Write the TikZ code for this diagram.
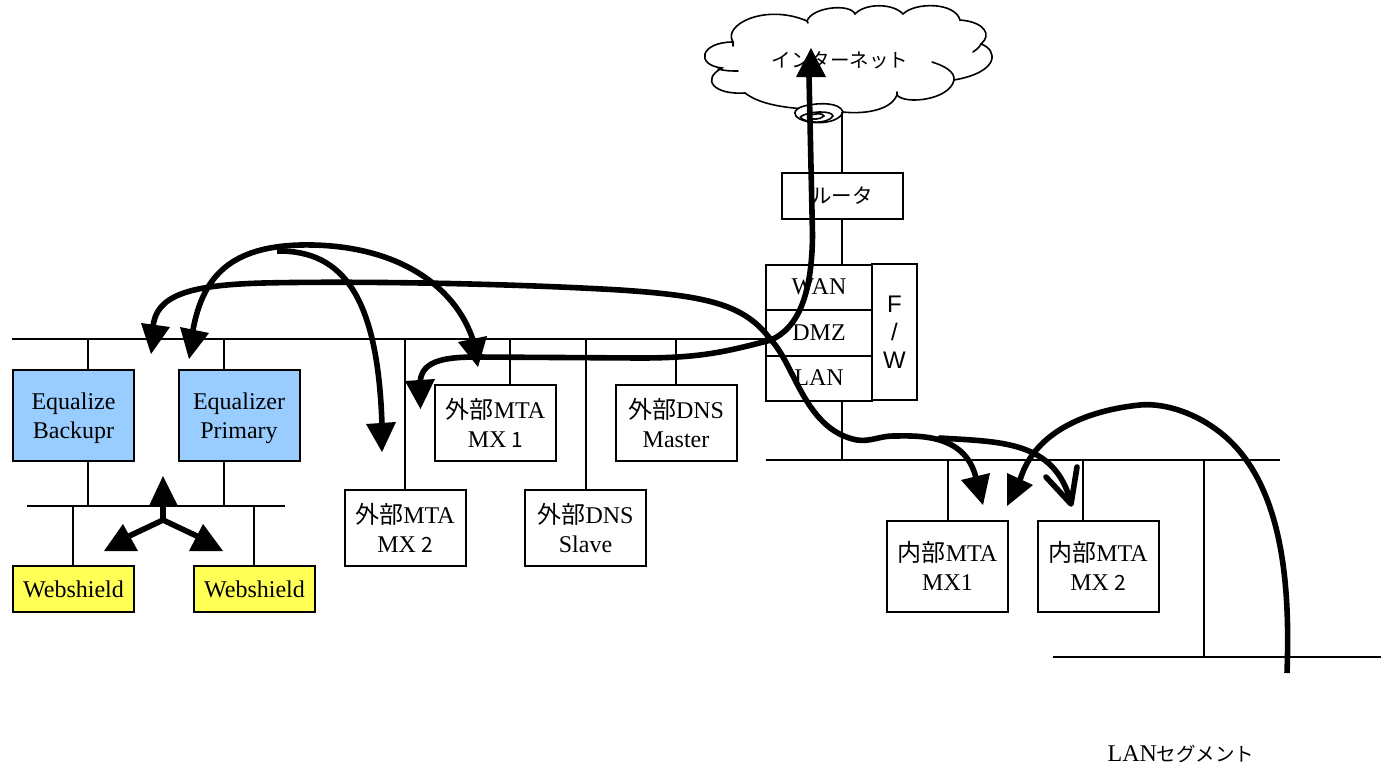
\documentclass[tikz,border=0pt]{standalone}
\usepackage{fontspec}
\setmainfont{Liberation Serif}
\newfontfamily\cjk{Noto Sans CJK JP}
\newfontfamily\helv{Liberation Sans}
\newcommand{\thinone}{\hspace{5pt}{\cjk\fontsize{21}{24}\selectfont 1}}
\newcommand{\thintwo}{\hspace{5pt}{\cjk\fontsize{21}{24}\selectfont 2}}
\newcommand{\lowerline}{\rule{0pt}{24pt}}
\definecolor{eqblue}{RGB}{153,204,255}
\definecolor{webyellow}{RGB}{255,255,85}
\tikzset{
 x=1pt,y=-1pt,
 wire/.style={draw=black,line width=1.6pt},
 flow/.style={draw=black,line width=5.6pt,line cap=butt},
 head/.style={fill=black,draw=none},
 box/.style={draw=black,line width=2pt,fill=white,minimum width=121pt,minimum height=76pt,align=center,inner sep=0pt,font=\fontsize{24}{29}\selectfont},
 eq/.style={box,minimum height=91pt,fill=eqblue},
 web/.style={box,minimum height=46pt,fill=webyellow},
 fw/.style={draw=black,line width=2pt,fill=white,inner sep=0pt,font=\fontsize{24}{27}\selectfont},
 cloudline/.style={draw=black,line width=1.6pt,line cap=round},
}
\begin{document}
\begin{tikzpicture}
\useasboundingbox[fill=white] (0,0) rectangle (1381,764);
% buses
\coordinate (b1a) at (12,339); \coordinate (b1b) at (766,339);
\coordinate (b2a) at (27,506); \coordinate (b2b) at (285,506);
\coordinate (b3a) at (766,460); \coordinate (b3b) at (1280,460);
\coordinate (b4a) at (1053,657); \coordinate (b4b) at (1381,657);
\draw[wire] (b1a)--(b1b); \draw[wire] (b2a)--(b2b); \draw[wire] (b3a)--(b3b); \draw[wire] (b4a)--(b4b);
% boxes
\node[eq] (eb) at (73.5,415) {\lowerline Equalize\\Backupr};
\node[eq] (ep) at (239,415) {\lowerline Equalizer\\Primary};
\node[web] (w1) at (73.5,589) {Webshield};
\node[web] (w2) at (254.5,589) {Webshield};
\node[box] (mx2) at (405,528) {{\cjk 外部}MTA\\MX\thintwo};
\node[box] (mx1) at (495.5,423) {{\cjk 外部}MTA\\MX\thinone};
\node[box] (dnss) at (585.5,528) {{\cjk 外部}DNS\\Slave};
\node[box] (dnsm) at (676,423) {{\cjk 外部}DNS\\Master};
\node[box,minimum height=91pt] (imx1) at (947.5,566) {{\cjk 内部}MTA\\MX1};
\node[box,minimum height=91pt] (imx2) at (1098,566) {{\cjk 内部}MTA\\MX\thintwo};
\node[box,minimum height=46pt,font=\cjk\fontsize{20.5}{24}\selectfont] (rt) at (842,196) {ルータ};
\node[fw,minimum width=106pt,minimum height=45pt] (wan) at (819,287) {WAN};
\node[fw,minimum width=106pt,minimum height=46pt] (dmz) at (819,332.5) {DMZ};
\node[fw,minimum width=106pt,minimum height=45pt] (lan) at (819,378) {LAN};
\node[fw,minimum width=45pt,minimum height=136pt,align=center,font=\helv\fontsize{24}{28}\selectfont] (fwl) at (894.5,332) {F\\/\\W};
% cloud
\filldraw[cloudline,fill=white]
 (733,42) .. controls (722,25) and (765,3) .. (807,21)
 .. controls (812,7) and (850,3) .. (855,14)
 .. controls (865,3) and (893,3) .. (903,14)
 .. controls (915,2) and (955,2) .. (960,20)
 .. controls (985,22) and (992,35) .. (981,44)
 .. controls (998,50) and (1000,72) .. (954,80)
 .. controls (950,100) and (905,105) .. (897,95)
 .. controls (890,112) and (860,114) .. (843,112)
 .. controls (820,108) and (770,112) .. (745,93)
 .. controls (715,95) and (700,80) .. (722,68)
 .. controls (695,65) and (700,42) .. (733,42) -- cycle;
\draw[cloudline] (733,42) -- (733,46)
 (807,21) -- (808,23)
 (718,69) .. controls (725,71) and (732,71) .. (738,71)
 (981,44) .. controls (979,48) and (976,50) .. (973,52)
 (954,80) .. controls (955,72) and (945,66) .. (932,62)
 (897,95) -- (897,92);
\node[inner sep=0pt,font=\cjk\fontsize{19.5}{24}\selectfont] (inet) at (840,60) {インターネット};
% cloud tail
\draw[wire,fill=white] (843,112) .. controls (840,102) and (818,103) .. (810,105) .. controls (798,106) and (792,112) .. (796,116) .. controls (803,125) and (838,126) .. (843,112) -- cycle;
\draw[wire] (800,117) .. controls (808,111) and (832,110) .. (833,116) .. controls (828,124) and (806,124) .. (800,117);
\draw[wire] (807,117) .. controls (812,113) and (824,113) .. (824,116) .. controls (820,120) and (811,120) .. (807,117);
% stubs
\coordinate (tail) at (842,112);
\draw[wire] (tail) -- (tail |- rt.north);
\draw[wire] (rt.south) -- (rt.south |- wan.north);
\coordinate (fwb) at (842,460);
\draw[wire] (fwb |- lan.south) -- (fwb);
\foreach \j/\x/\ya/\n in {a/88/339/eb,b/224/339/ep}{\coordinate (\j) at (\x,\ya); \draw[wire] (\j) -- (\j |- \n.north);}
\foreach \j/\x/\n in {c/88/eb,d/224/ep}{\coordinate (\j) at (\x,506); \draw[wire] (\j) -- (\j |- \n.south);}
\foreach \j/\x/\n in {e/73/w1,f/254/w2}{\coordinate (\j) at (\x,506); \draw[wire] (\j) -- (\j |- \n.north);}
\foreach \j/\x/\n in {g/405/mx2,h/510/mx1,i/586/dnss,k/676/dnsm}{\coordinate (\j) at (\x,339); \draw[wire] (\j) -- (\j |- \n.north);}
\foreach \j/\x/\n in {l/948/imx1,m/1083/imx2}{\coordinate (\j) at (\x,460); \draw[wire] (\j) -- (\j |- \n.north);}
\coordinate (n1) at (1204,460); \coordinate (n2) at (1204,657); \draw[wire] (n1) -- (n2);
\node[inner sep=0pt,anchor=base,font=\fontsize{24}{27}\selectfont] (seg) at (1181,761) {LAN{\cjk\fontsize{19.5}{24}\selectfont セグメント}};
% flows
\coordinate (hub) at (771,340);
\draw[flow] (hub) .. controls (798,328) and (812,295) .. (812.5,235) -- (809,76);
\fill[head] (811,48) -- (796,77) -- (826,77) -- cycle;
\draw[flow] (hub) .. controls (725,352) and (700,358) .. (640,358) -- (477,357) .. controls (440,357) and (420,362) .. (420,385);
\fill[head] (420.5,409) -- (405,381) -- (435,379) -- cycle;
\draw[flow] (hub) .. controls (745,305) and (710,296) .. (620,290) .. controls (500,283) and (350,281) .. (263,283) .. controls (190,285) and (155,295) .. (153,328);
\fill[head] (151,354) -- (141,323) -- (170,327) -- cycle;
\draw[flow] (193,330) .. controls (203,275) and (232,247) .. (300,245) .. controls (395,243) and (455,285) .. (473,340);
\fill[head] (189,359) -- (180,327) -- (209,333) -- cycle;
\fill[head] (478,367) -- (458,342) -- (487,336) -- cycle;
\draw[flow] (277,251) .. controls (345,250) and (378,300) .. (382,425);
\fill[head] (382,452) -- (366,424) -- (396,422) -- cycle;
\draw[flow] (hub) .. controls (795,365) and (805,430) .. (857,440) .. controls (870,442) and (880,436) .. (893,436) .. controls (915,436) and (965,432) .. (976,478);
\fill[head] (983,505) -- (961,480) -- (990,473) -- cycle;
\draw[flow,line cap=round] (940,438) .. controls (1000,442) and (1055,440) .. (1071,503);
\draw[flow,line cap=round,line join=round] (1046,477) -- (1071,504) -- (1077,467);
\draw[flow] (1287,673) .. controls (1290,590) and (1285,480) .. (1217,430) .. controls (1190,410) and (1160,403) .. (1140,405) .. controls (1090,410) and (1035,430) .. (1020,480);
\fill[head] (1007,506) -- (1007,473) -- (1033,485) -- cycle;
\coordinate (tri) at (163,520);
\draw[line width=5.6pt] (163,500) -- (tri) -- (125,538);
\draw[line width=5.6pt] (tri) -- (201,538);
\fill[head] (163,476) -- (149,506) -- (178,506) -- cycle;
\fill[head] (123,524) -- (104,551) -- (138,551) -- cycle;
\fill[head] (203,524) -- (189,551) -- (223,551) -- cycle;
\end{tikzpicture}
\end{document}
